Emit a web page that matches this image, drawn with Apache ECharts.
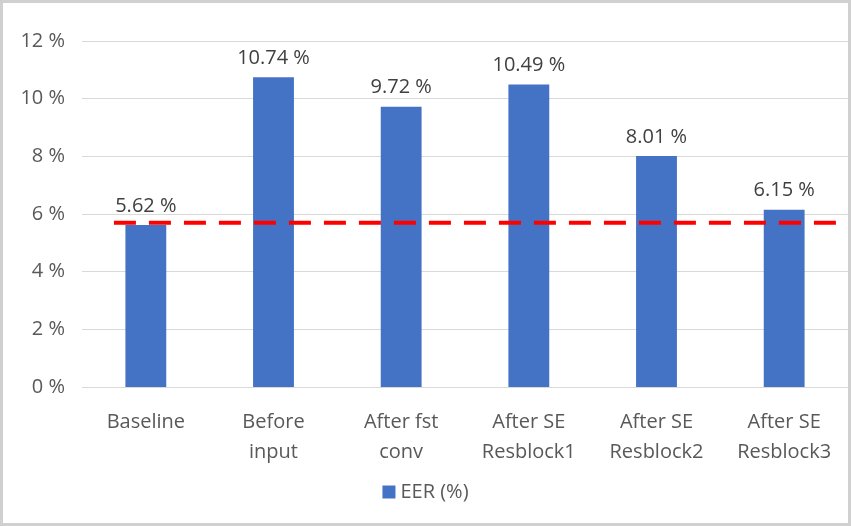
<!DOCTYPE html>
<html><head><meta charset="utf-8">
<script src="https://cdn.jsdelivr.net/npm/echarts@6/dist/echarts.min.js"></script>
<style>
html,body{margin:0;padding:0;background:#fff;}
#frame{position:absolute;left:0;top:0;width:845px;height:520px;border:3px solid #d0d0d0;background:#fff;}
#c{width:845px;height:520px;}
</style></head>
<body><div id="frame"><div id="c"></div></div>
<script>
const categories = ['Baseline','Before\ninput','After fst\nconv','After SE\nResblock1','After SE\nResblock2','After SE\nResblock3'];
const eerValues = [5.62, 10.74, 9.72, 10.49, 8.01, 6.15];
const baselineLevel = 5.7;
const yTicks = [0, 2, 4, 6, 8, 10, 12];
const seriesName = 'EER (%)';

const chart = echarts.init(document.getElementById('c'));
const font = '"Open Sans", "Liberation Sans", sans-serif';
const fs = 20;
chart.setOption({
  animation: false,
  grid: {left: 79, right: 0, top: 38, bottom: 136},
  legend: {bottom: 16, left: 'center', itemWidth: 13, itemHeight: 13, icon: 'rect', itemGap: 8,
    textStyle: {fontFamily: font, fontSize: fs, color: '#595959'}, data: [seriesName]},
  xAxis: [{
    type: 'category', data: categories,
    axisLine: {show: false}, axisTick: {show: false},
    axisLabel: {fontFamily: font, fontSize: fs, color: '#595959', margin: 20, lineHeight: 30}
  }, {
    type: 'value', min: 0, max: 6, show: false
  }],
  yAxis: {
    type: 'value', min: yTicks[0], max: yTicks[yTicks.length-1], interval: 2,
    axisLine: {show: false}, axisTick: {show: false},
    splitLine: {lineStyle: {color: '#d9d9d9', width: 1}},
    axisLabel: {fontFamily: font, fontSize: fs, color: '#595959', margin: 17, formatter: v => v + ' %'}
  },
  series: [{
    name: seriesName, type: 'bar', data: eerValues, barWidth: '32%',
    itemStyle: {color: '#4472c4'},
    label: {show: true, position: 'top', distance: 9, fontFamily: font, fontSize: fs, color: '#404040',
      formatter: p => p.value.toFixed(2) + ' %'}
  }, {
    type: 'line', xAxisIndex: 1, data: [[0.25, baselineLevel], [6, baselineLevel]],
    symbol: 'none', lineStyle: {color: '#ff0000', width: 4, type: [22, 13]}, silent: true, z: 5
  }]
});
</script></body></html>
